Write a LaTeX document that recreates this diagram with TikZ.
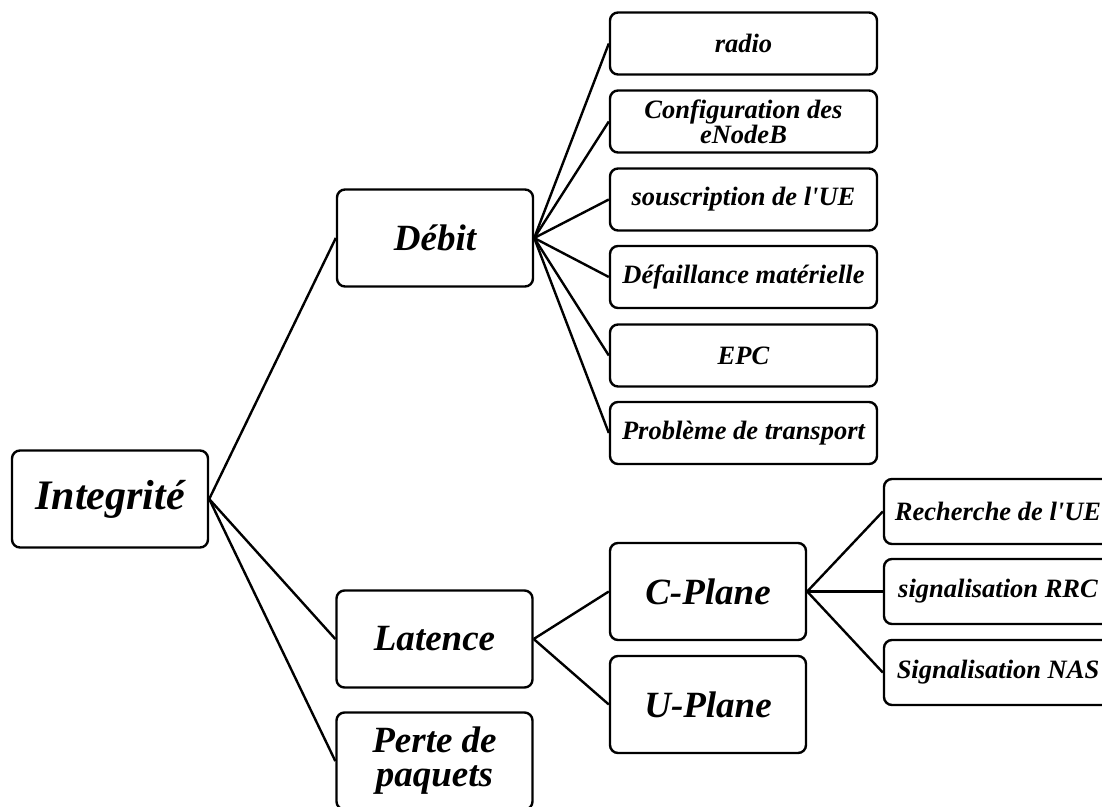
\documentclass[tikz,border=0pt]{standalone}
\usepackage{fontspec}
\setmainfont{Liberation Serif}
\begin{document}
\begin{tikzpicture}[x=1pt,y=-1pt,
  box/.style={draw, line width=2.4pt, rounded corners=8pt, inner sep=0pt,
    align=center, font=\bfseries\itshape},
  rootbox/.style={box, minimum width=196pt, minimum height=97pt,
    font={\fontsize{42}{38}\selectfont\bfseries\itshape}},
  midbox/.style={box, minimum width=196pt, minimum height=97pt,
    font={\fontsize{37}{34}\selectfont\bfseries\itshape}},
  leafbox/.style={box, minimum width=267pt, minimum height=62pt,
    font={\fontsize{26.5}{24}\selectfont\bfseries\itshape}},
  cleaf/.style={box, minimum width=228pt, minimum height=65pt,
    font={\fontsize{26.5}{24}\selectfont\bfseries\itshape}},
  link/.style={line width=2.4pt}]
\useasboundingbox (0,0) rectangle (1102,806);
\clip (0,0) rectangle (1102,806);

% root
\node[rootbox] (int) at (110,499) {Integrité};

% first level
\node[midbox] (deb) at (435,238) {Débit};
\node[midbox] (lat) at (434.5,639) {Latence};
\node[midbox] (per) at (434.5,761) {Perte de\\paquets};

% causes of throughput problems
\node[leafbox] (r1) at (743.5,43.5) {radio};
\node[leafbox] (r2) at (743.5,121.5) {Configuration des\\eNodeB};
\node[leafbox] (r3) at (743.5,199.5) {souscription de l\textquotesingle UE};
\node[leafbox] (r4) at (743.5,277) {Défaillance matérielle};
\node[leafbox] (r5) at (743.5,355.5) {EPC};
\node[leafbox] (r6) at (743.5,433) {Problème de transport};

% latency planes
\node[midbox] (cp) at (708,591.5) {C-Plane};
\node[midbox] (up) at (708,704.5) {U-Plane};

% control plane causes
\node[cleaf] (c1) at (998,511.5) {Recherche de l\textquotesingle UE};
\node[cleaf] (c2) at (998,591.5) {signalisation RRC};
\node[cleaf] (c3) at (998,672.5) {Signalisation NAS};

% connectors
\foreach \t in {deb,lat,per} \draw[link] (int.east) -- (\t.west);
\foreach \t in {r1,r2,r3,r4,r5,r6} \draw[link] (deb.east) -- (\t.west);
\foreach \t in {cp,up} \draw[link] (lat.east) -- (\t.west);
\foreach \t in {c1,c2,c3} \draw[link] (cp.east) -- (\t.west);
\end{tikzpicture}
\end{document}
